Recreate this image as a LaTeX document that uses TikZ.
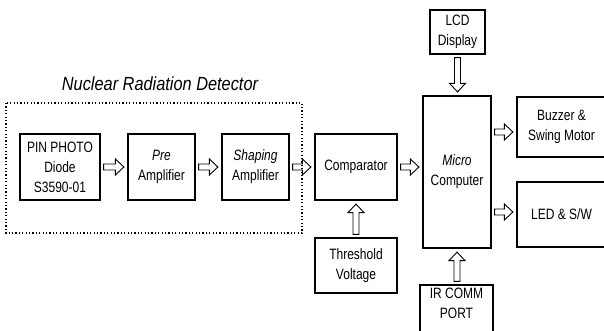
\documentclass[tikz,border=0pt]{standalone}
\usepackage{fontspec}
\setmainfont[FakeStretch=0.8]{Liberation Sans}
\newfontfamily\titlefont[FakeStretch=0.86]{Liberation Sans}
\usetikzlibrary{calc}
\tikzset{
  box/.style={draw, line width=1.2pt, align=center, inner sep=0pt,
    font=\fontsize{15}{20}\selectfont},
  hollow/.style={line width=0.9pt, line join=miter, to path={
    let \p1=(\tikztostart), \p2=(\tikztotarget),
        \n1={atan2(\y2-\y1,\x2-\x1)}, \n2={veclen(\x2-\x1,\y2-\y1)} in
    {[shift={(\p1)}, rotate=\n1]
    (3pt,-3pt) -- ({\n2-12pt},-3pt) -- ({\n2-12pt},-8pt) -- ({\n2-3.5pt},0pt)
    -- ({\n2-12pt},8pt) -- ({\n2-12pt},3pt) -- (3pt,3pt) -- cycle}
  }},
  dotbox/.style={draw, line width=1.2pt, dash pattern=on 1.2pt off 2.2pt}
}
\begin{document}
\begin{tikzpicture}[x=1pt,y=-1pt]
\useasboundingbox (0,0) rectangle (604,330);
% dotted detector frame
\draw[dotbox] (6,103) rectangle (302,233);
\node[font=\titlefont\itshape\fontsize{19}{20}\selectfont] (title) at (160,84) {Nuclear Radiation Detector};
% boxes
\node[box, minimum width=80pt, minimum height=66pt] (pin) at (60,167) {PIN PHOTO\\Diode\\S3590-01};
\node[box, minimum width=67pt, minimum height=66pt] (pre) at (161.5,167) {\itshape Pre\\Amplifier};
\node[box, minimum width=67pt, minimum height=66pt] (shp) at (255.5,167) {\itshape Shaping\\Amplifier};
\node[box, minimum width=82pt, minimum height=66pt] (comp) at (356,167) {Comparator};
\node[box, minimum width=82pt, minimum height=55pt] (thr) at (356,265.5) {Threshold\\Voltage};
\node[box, minimum width=55pt, minimum height=44pt] (lcd) at (457.5,32) {LCD\\Display};
\node[box, minimum width=68pt, minimum height=152pt] (mcu) at (457,172) {\itshape Micro\\Computer};
\node[box, minimum width=89pt, minimum height=60pt] (buz) at (561.5,127) {Buzzer \&\\Swing Motor};
\node[box, minimum width=89pt, minimum height=65pt] (led) at (561.5,214.5) {LED \& S/W};
\node[box, minimum width=73pt, minimum height=56pt] (ir) at (456.5,313) {IR COMM\\PORT\\\mbox{}};
% hollow arrows
\draw[hollow] (pin.east) to (pre.west);
\draw[hollow] (pre.east) to (shp.west);
\draw[hollow] (shp.east) to (comp.west);
\draw[hollow] (comp.east) to (comp.east -| mcu.west);
\draw[hollow] (thr.north) to (comp.south);
\draw[hollow] (lcd.south) to (lcd.south |- mcu.north);
\draw[hollow] (ir.north -| mcu.south) to (mcu.south);
\draw[hollow] ($(mcu.east |- buz.west)+(0,5)$) to ($(buz.west)+(0,5)$);
\draw[hollow] ($(mcu.east |- led.west)+(0,-2.5)$) to ($(led.west)+(0,-2.5)$);
\end{tikzpicture}
\end{document}
